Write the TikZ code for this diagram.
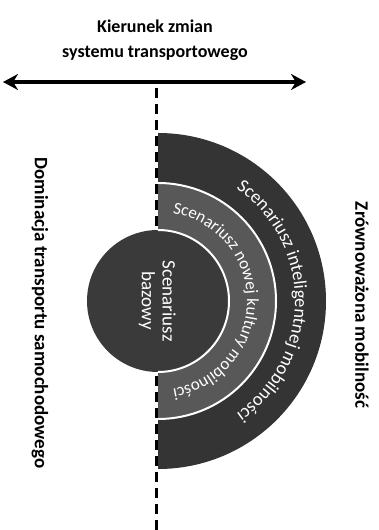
\documentclass[tikz,border=0pt]{standalone}
\usepackage{fontspec}
\setmainfont{Carlito}
\usetikzlibrary{arrows.meta, positioning, decorations.text}

\definecolor{ringouter}{RGB}{52,52,52}
\definecolor{ringmid}{RGB}{88,88,88}
\definecolor{ringbase}{RGB}{58,58,58}

\begin{document}
\begin{tikzpicture}[x=1pt,y=1pt,>={Stealth[length=15pt,width=16pt]},
    heading/.style={font=\bfseries\fontsize{18}{25}\selectfont, align=center},
    sidelabel/.style={font=\bfseries\fontsize{19}{22}\selectfont, rotate=-90},
    basetext/.style={white, font=\fontsize{19}{22}\selectfont, rotate=-90},
    separator/.style={white, line width=2pt}]
    \useasboundingbox (0,0) rectangle (378,530);

    \coordinate (c) at (158,229);
    \coordinate (arrowL) at (3,448);
    \coordinate (arrowR) at (306,448);
    \coordinate (axisT) at (156.5,442);
    \coordinate (axisB) at (156.5,0);

    \node[heading] (title) at (155,490) {Kierunek zmian\\systemu transportowego};
    \draw[<->, line width=3.5pt] (arrowL) -- (arrowR);
    \draw[line width=3pt, dash pattern=on 10pt off 6pt] (axisT) -- (axisB);

    % scenario rings
    \fill[ringouter] (c) ++(0,168) arc[start angle=90, end angle=-90, radius=168pt] -- cycle;
    \fill[ringmid] (c) ++(0,118) arc[start angle=90, end angle=-90, radius=118pt] -- cycle;
    \draw[separator] (c) ++(0,118) arc[start angle=90, end angle=-90, radius=118pt];
    \fill[ringbase] (c) circle[radius=71pt];
    \draw[separator] (c) ++(0,71) arc[start angle=90, end angle=-90, radius=71pt];

    \path[decorate, decoration={text along path, text align=center, text color=white,
        text={|\fontsize{18.5}{20}\selectfont|Scenariusz inteligentnej mobilności}}]
      (c) ++(90:137pt) arc[start angle=90, end angle=-90, radius=137pt];
    \path[decorate, decoration={text along path, text align=center, text color=white,
        text={|\fontsize{17}{19}\selectfont|Scenariusz nowej kultury mobilności}}]
      (c) ++(100:89pt) arc[start angle=100, end angle=-100, radius=89pt];
    \node[basetext] (scen) at (169,229) {Scenariusz};
    \node[basetext] (bazowy) at (147,229) {bazowy};

    \node[sidelabel] (dominacja) at (40,217) {Dominacja transportu samochodowego};
    \node[sidelabel] (zrownowazona) at (362,225) {Zrównoważona mobilność};
\end{tikzpicture}
\end{document}
